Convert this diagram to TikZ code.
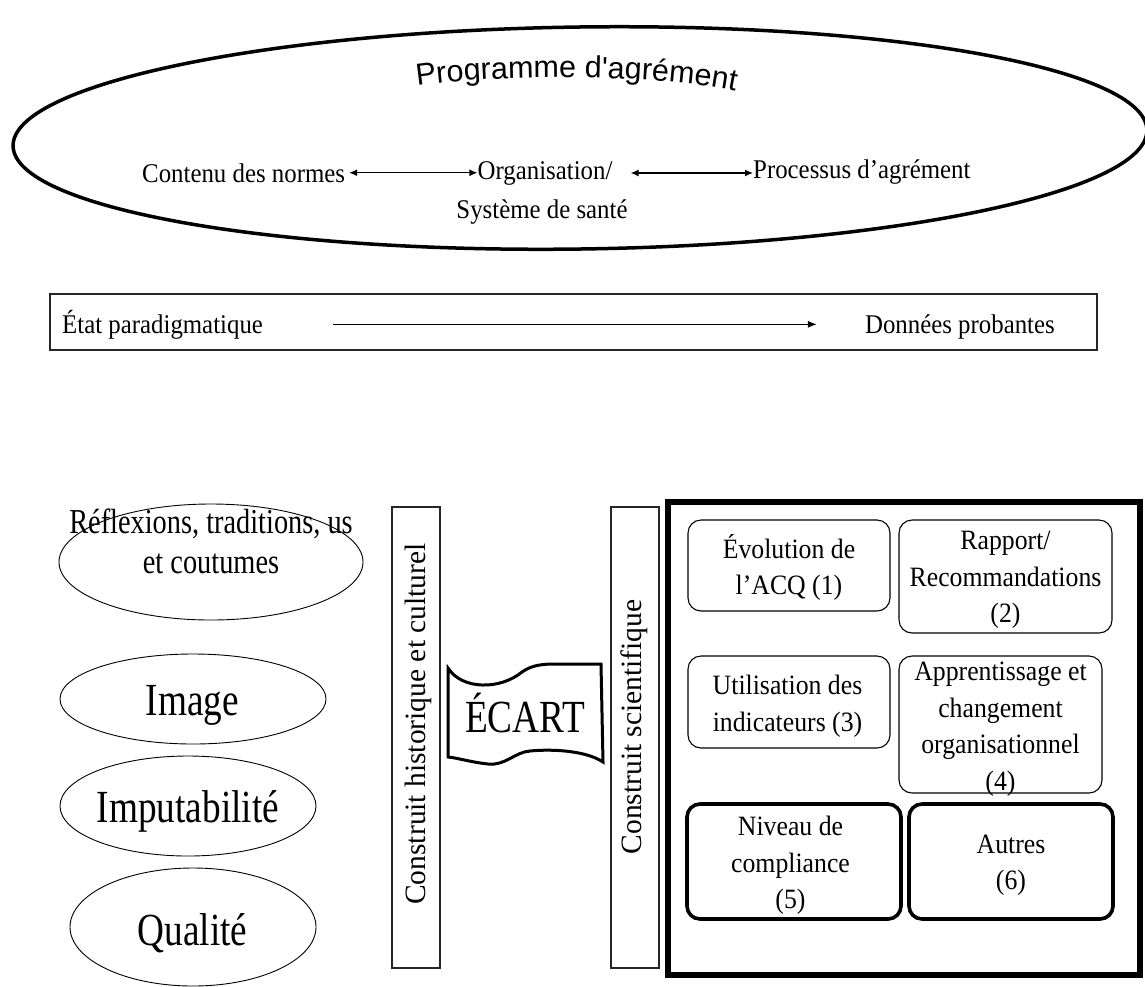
\documentclass[tikz,border=0pt]{standalone}
\usepackage{fontspec}
\setmainfont[FakeStretch=0.92]{Liberation Serif}
\newfontfamily\bigserif[FakeStretch=0.81]{Liberation Serif}
\newfontfamily\upserif{Liberation Serif}
\newfontfamily\wordart{Liberation Sans}
\usetikzlibrary{shapes.geometric,decorations.text,arrows.meta}

\begin{document}
\begin{tikzpicture}[x=1pt,y=-1pt,
  txt/.style={inner sep=0pt, font=\fontsize{27}{38}\selectfont},
  boxtxt/.style={inner sep=0pt, align=center, font=\fontsize{28}{36.5}\selectfont},
  bigtxt/.style={inner sep=0pt, font=\bigserif\fontsize{46}{46}\selectfont},
  uptxt/.style={inner sep=0pt, rotate=90, font=\upserif\fontsize{29.5}{29.5}\selectfont},
  ell/.style={draw, ellipse, line width=0.9pt, inner sep=0pt},
  band/.style={draw, line width=1.2pt, inner sep=0pt, draw=black!85},
  rbox/.style={draw, rounded corners=13pt, line width=1.1pt, inner sep=0pt},
  rboxb/.style={rbox, line width=3.6pt},
  biarrow/.style={{Latex[length=8pt,width=7pt]}-{Latex[length=8pt,width=7pt]}, line width=1.3pt},
  onearrow/.style={-{Latex[length=9pt,width=7pt]}, line width=1.3pt}]

\useasboundingbox (0,0) rectangle (1145,986);

% ---- accreditation programme ----
\node[draw, ellipse, line width=3.5pt, minimum width=1134pt, minimum height=222pt,
      rotate=0.8, inner sep=0pt] (prog) at (580,138) {};
{\wordart\fontsize{30.5}{30.5}\selectfont
\path[decorate, decoration={text along path, text align=center,
      text={Programme d'agrément}}]
      (390,91) .. controls (460,72) and (690,72) .. (762,98);
}

\node[txt, anchor=base west] (contenu) at (142,182) {Contenu des normes};
\node[txt, anchor=base] (orgA) at (545,179) {Organisation/};
\node[txt, anchor=base] (orgB) at (542,218) {Système de santé};
\node[txt, anchor=base west] (proc) at (753,178) {Processus d’agrément};
\draw[biarrow, shorten <=4pt] (contenu.east) -- (orgA.west |- contenu.east);
\draw[biarrow, shorten <=18pt] (orgA.east) -- (proc.west |- orgA.east);

% ---- paradigm band ----
\node[band, minimum width=1047pt, minimum height=56pt] (para) at (573.5,322) {};
\node[txt, anchor=base west] (etat) at (62,333) {État paradigmatique};
\node[txt, anchor=base east] (donnees) at (1055,333) {Données probantes};
\draw[onearrow, shorten <=70pt, shorten >=48pt] (etat.east) -- (donnees.west |- etat.east);

% ---- left column ----
\node[ell, minimum width=304pt, minimum height=116pt] (refl) at (211,562) {};
\node[inner sep=0pt, align=center, font=\bigserif\fontsize{35}{40}\selectfont] (refltxt)
      at (211,541) {Réflexions, traditions, us\\et coutumes};
\node[ell, minimum width=266pt, minimum height=90pt] (image) at (193,699) {};
\node[bigtxt, anchor=base] (imagetxt) at (192.5,715) {Image};
\node[ell, minimum width=256pt, minimum height=100pt] (imput) at (188,806) {};
\node[bigtxt, anchor=base] (imputtxt) at (188,822) {Imputabilité};
\node[ell, minimum width=246pt, minimum height=118pt] (qual) at (193,927) {};
\node[bigtxt, anchor=base] (qualtxt) at (192.5,945) {Qualité};

% ---- the two constructs and the gap between them ----
\node[band, minimum width=48pt, minimum height=461pt] (hist) at (416,737.5) {};
\node[uptxt] (histtxt) at (418,724) {Construit historique et culturel};
\node[band, minimum width=48pt, minimum height=461pt] (sci) at (635,737.5) {};
\node[uptxt] (scitxt) at (634,727) {Construit scientifique};

% wave-shaped banner
\draw[line width=3pt, line join=miter]
  (448,757) -- (448,668)
  .. controls (462,690) and (500,690) .. (522,672)
  .. controls (532,665) and (542,664) .. (556,664) -- (601,664)
  -- (603,762)
  .. controls (585,750) and (550,749) .. (530,751)
  .. controls (515,752) and (505,766) .. (488,764)
  .. controls (470,762) and (458,758) .. (448,757) -- cycle;
\node[bigtxt, anchor=base] (ecart) at (525,732) {ÉCART};

% ---- scientific construct frame ----
\node[draw, line width=6pt, minimum width=472pt, minimum height=473pt, inner sep=0pt]
      (frame) at (904,738.5) {};
\node[rbox, minimum width=202pt, minimum height=91pt] (b1) at (789,565.5) {};
\node[rbox, minimum width=213pt, minimum height=113pt] (b2) at (1005.5,576.5) {};
\node[rbox, minimum width=202pt, minimum height=92pt] (b3) at (789,702) {};
\node[rbox, minimum width=203pt, minimum height=137pt] (b4) at (1000.5,724.5) {};
\node[rboxb, minimum width=214pt, minimum height=115pt] (b5) at (794,861.5) {};
\node[rboxb, minimum width=204pt, minimum height=115pt] (b6) at (1011,861.5) {};

\node[boxtxt] (t1) at (789,567.5) {Évolution de\\l’ACQ (1)};
\node[boxtxt] (t2) at (1005.5,580) {Rapport/\\Recommandations\\(2)};
\node[boxtxt] (t3) at (787.5,706.5) {Utilisation des\\indicateurs (3)};
\node[boxtxt] (t4) at (1000.5,729) {Apprentissage et\\changement\\organisationnel\\(4)};
\node[boxtxt] (t5) at (790.5,865.4) {Niveau de\\compliance\\(5)};
\node[boxtxt] (t6) at (1011,865) {Autres\\(6)};
\end{tikzpicture}
\end{document}
